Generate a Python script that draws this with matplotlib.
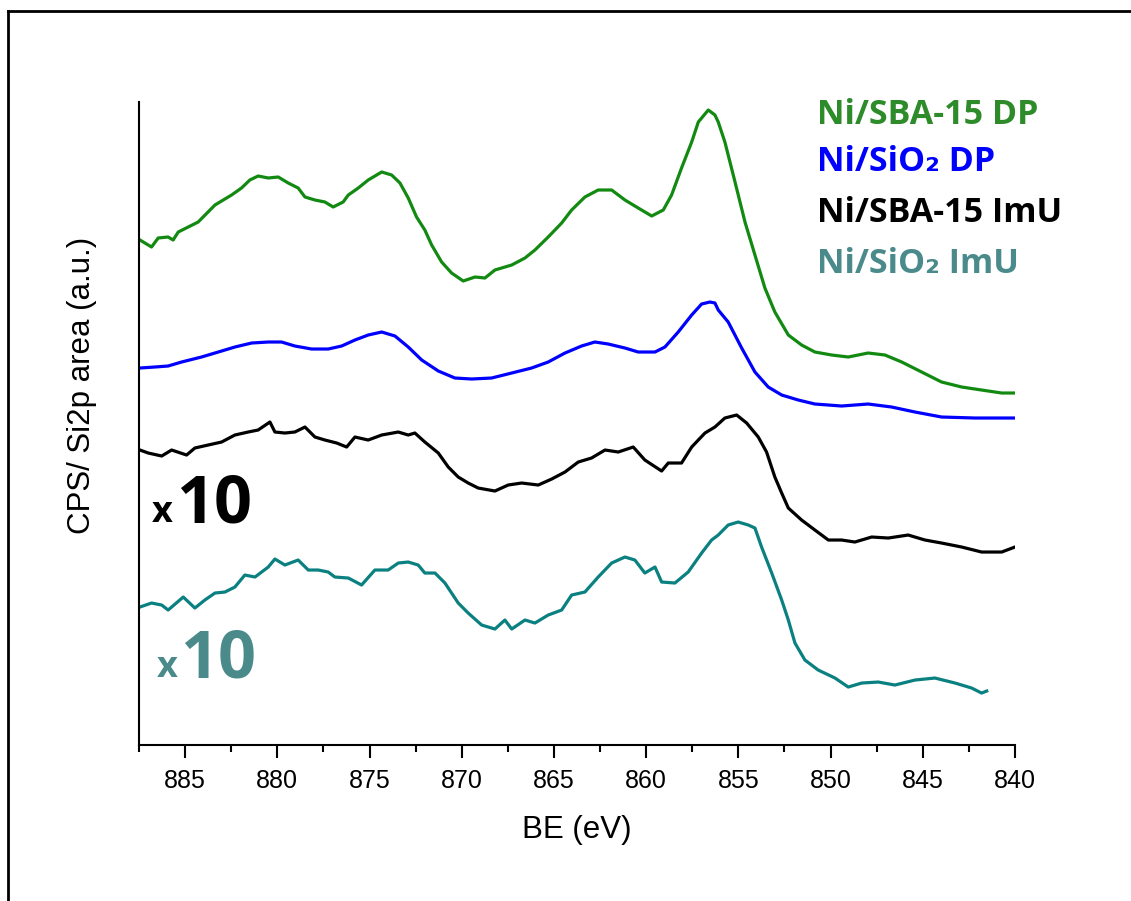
import numpy as np
import matplotlib
matplotlib.use('Agg')
import matplotlib.pyplot as plt
from matplotlib.lines import Line2D

# Ni2p XPS spectra, stacked (a.u.)
be_sba_dp = [887.45, 886.82, 886.46, 885.92, 885.65, 885.37, 884.83, 884.29, 883.38, 882.48,
             881.94, 881.49, 881.04, 880.49, 879.95, 879.41, 878.87, 878.50, 877.96, 877.42,
             876.97, 876.43, 876.15, 875.61, 875.07, 874.34, 873.80, 873.35, 872.90, 872.45,
             872.00, 871.63, 871.09, 870.55, 869.92, 869.28, 868.74, 868.20, 867.29, 866.57,
             866.03, 865.31, 864.58, 864.04, 863.32, 862.60, 861.87, 861.15, 860.43, 859.70,
             859.07, 858.62, 858.08, 857.53, 857.17, 856.63, 856.27, 856.09, 855.73, 855.18,
             854.64, 854.10, 853.56, 853.02, 852.29, 851.57, 850.85, 849.94, 849.04, 847.96,
             847.05, 846.14, 845.06, 843.98, 842.89, 841.81, 840.72, 840.00]
i_sba_dp = [505, 498, 507, 508, 505, 513, 518, 523, 540, 550,
            557, 565, 569, 567, 568, 562, 557, 548, 545, 543,
            538, 543, 550, 557, 565, 573, 570, 562, 547, 528,
            515, 500, 483, 472, 464, 468, 467, 475, 480, 487,
            495, 508, 522, 535, 548, 555, 555, 545, 537, 529,
            535, 550, 577, 603, 623, 635, 630, 623, 603, 563,
            523, 490, 457, 433, 410, 400, 393, 390, 388, 392,
            390, 383, 373, 363, 358, 355, 352, 352]

be_sio2_dp = [887.45, 886.64, 885.92, 885.19, 884.11, 883.20, 882.30, 881.39, 880.49, 879.77,
              879.05, 878.14, 877.24, 876.51, 875.79, 875.07, 874.34, 873.62, 872.90, 872.17,
              871.27, 870.37, 869.46, 868.38, 867.29, 866.21, 865.31, 864.40, 863.50, 862.78,
              862.06, 861.15, 860.43, 859.52, 858.98, 858.26, 857.53, 856.99, 856.54, 856.27,
              856.09, 855.55, 854.82, 854.10, 853.38, 852.65, 851.75, 850.85, 849.40, 847.96,
              846.69, 845.42, 843.98, 842.17, 840.36, 840.00]
i_sio2_dp = [377, 378, 379, 383, 388, 393, 398, 402, 403, 403,
             399, 396, 396, 399, 405, 410, 413, 409, 398, 385,
             374, 367, 366, 367, 372, 377, 383, 392, 399, 403,
             401, 397, 393, 393, 398, 413, 430, 441, 443, 442,
             435, 423, 397, 373, 358, 350, 345, 341, 339, 341,
             338, 333, 328, 327, 327, 327]

be_sba_imu = [887.45, 887.00, 886.27, 885.73, 884.92, 884.47, 883.75, 883.02, 882.30, 881.58,
              881.04, 880.40, 880.13, 879.59, 879.05, 878.50, 877.96, 877.42, 876.78, 876.24,
              875.79, 875.07, 874.34, 873.44, 872.90, 872.54, 872.00, 871.27, 870.73, 870.19,
              869.65, 869.11, 868.20, 867.48, 866.75, 865.85, 865.12, 864.40, 863.68, 862.96,
              862.23, 861.51, 860.70, 860.07, 859.16, 858.80, 858.08, 857.53, 856.81, 856.27,
              855.73, 855.09, 854.55, 853.92, 853.47, 853.02, 852.65, 852.29, 851.57, 850.85,
              850.12, 849.40, 848.68, 847.77, 846.87, 845.79, 844.88, 843.98, 842.89, 841.81,
              840.72, 840.00]
i_sba_imu = [295, 292, 289, 295, 290, 297, 300, 303, 310, 313,
             315, 323, 313, 312, 313, 318, 308, 305, 302, 298,
             308, 305, 310, 313, 310, 312, 303, 292, 278, 268,
             262, 257, 254, 260, 262, 260, 266, 273, 283, 287,
             295, 293, 298, 285, 274, 282, 282, 298, 312, 318,
             327, 330, 322, 308, 293, 268, 252, 237, 225, 215,
             205, 205, 203, 208, 207, 210, 205, 202, 198, 193,
             193, 198]

be_sio2_imu = [887.45, 886.82, 886.27, 885.92, 885.10, 884.47, 883.93, 883.38, 882.84, 882.30,
               881.76, 881.21, 880.49, 880.13, 879.59, 878.87, 878.32, 877.78, 877.24, 876.88,
               876.15, 875.43, 874.71, 873.99, 873.44, 872.90, 872.36, 872.00, 871.45, 870.91,
               870.19, 869.65, 868.92, 868.20, 867.66, 867.29, 866.57, 866.03, 865.31, 864.58,
               864.04, 863.32, 862.60, 861.87, 861.15, 860.61, 860.07, 859.52, 859.16, 858.44,
               857.72, 856.99, 856.45, 856.09, 855.55, 855.01, 854.46, 854.10, 853.74, 853.19,
               852.65, 852.29, 851.93, 851.39, 850.67, 849.76, 849.04, 848.31, 847.41, 846.51,
               845.42, 844.34, 843.25, 842.35, 841.81, 841.53]
i_sio2_imu = [138, 142, 140, 135, 148, 137, 145, 152, 153, 158,
              170, 168, 178, 186, 180, 185, 175, 175, 173, 168,
              167, 160, 175, 175, 182, 183, 180, 172, 172, 162,
              142, 132, 120, 116, 125, 116, 125, 122, 130, 135,
              150, 153, 168, 182, 188, 185, 172, 178, 163, 162,
              173, 192, 205, 210, 220, 223, 220, 217, 198, 172,
              145, 125, 102, 85, 75, 67, 58, 62, 63, 60,
              65, 67, 62, 57, 52, 54]

series = [
    ('Ni/SBA-15 DP', be_sba_dp, i_sba_dp, '#128a12', '#2e8b2a'),
    ('Ni/SiO\u2082 DP', be_sio2_dp, i_sio2_dp, '#0000ff', '#0000ff'),
    ('Ni/SBA-15 ImU', be_sba_imu, i_sba_imu, '#000000', '#000000'),
    ('Ni/SiO\u2082 ImU', be_sio2_imu, i_sio2_imu, '#0a8080', '#4a8a8a'),
]
label_y = [630, 583, 532, 481]

fig = plt.figure(figsize=(11.31, 9.01), dpi=100)
ax = fig.add_axes([0.1229, 0.1731, 0.7745, 0.7137])

for (name, be, inten, c, tc), ly in zip(series, label_y):
    ax.plot(be, inten, color=c, lw=2.3, solid_joinstyle='round')
    ax.text(850.75, ly, name, color=tc, fontsize=24.5, fontweight='bold',
            family=['Open Sans', 'DejaVu Sans'], ha='left', va='center')

# scale factor marks for the two ImU spectra
ax.text(886.8, 223, 'x', color='black', fontsize=26, fontweight='bold',
        family='Open Sans', ha='left', va='baseline')
ax.text(885.5, 223, '10', color='black', fontsize=48, fontweight='bold',
        family='Open Sans', ha='left', va='baseline')
ax.text(886.55, 68, 'x', color='#4a8a8a', fontsize=26, fontweight='bold',
        family='Open Sans', ha='left', va='baseline')
ax.text(885.3, 68, '10', color='#4a8a8a', fontsize=48, fontweight='bold',
        family='Open Sans', ha='left', va='baseline')

ax.set_xlim(887.5, 840)
ax.set_ylim(0, 643)
ax.set_xticks(np.arange(885, 839, -5))
ax.set_xticks(np.arange(887.5, 839, -2.5), minor=True)
ax.set_yticks([])
for s in ['top', 'right']:
    ax.spines[s].set_visible(False)
for s in ['left', 'bottom']:
    ax.spines[s].set_linewidth(1.5)
ax.tick_params(axis='x', which='major', length=9, width=1.5, labelsize=18,
               pad=8, direction='out')
ax.tick_params(axis='x', which='minor', length=5, width=1.5)
for lab in ax.get_xticklabels():
    lab.set_family('Liberation Sans')

ax.set_xlabel('BE (eV)', fontsize=22.5, family='Liberation Sans', labelpad=16)
ax.set_ylabel('CPS/ Si2p area (a.u.)', fontsize=22.5, family='Liberation Sans')
ax.yaxis.set_label_coords(-0.048, 0.56)

# frame round the figure
fig.add_artist(Line2D([0.0075, 0.0075], [0.0, 0.988], color='black', lw=2,
                      transform=fig.transFigure))
fig.add_artist(Line2D([0.0075, 1.0], [0.988, 0.988], color='black', lw=2,
                      transform=fig.transFigure))

fig.savefig('out.png', dpi=100)
